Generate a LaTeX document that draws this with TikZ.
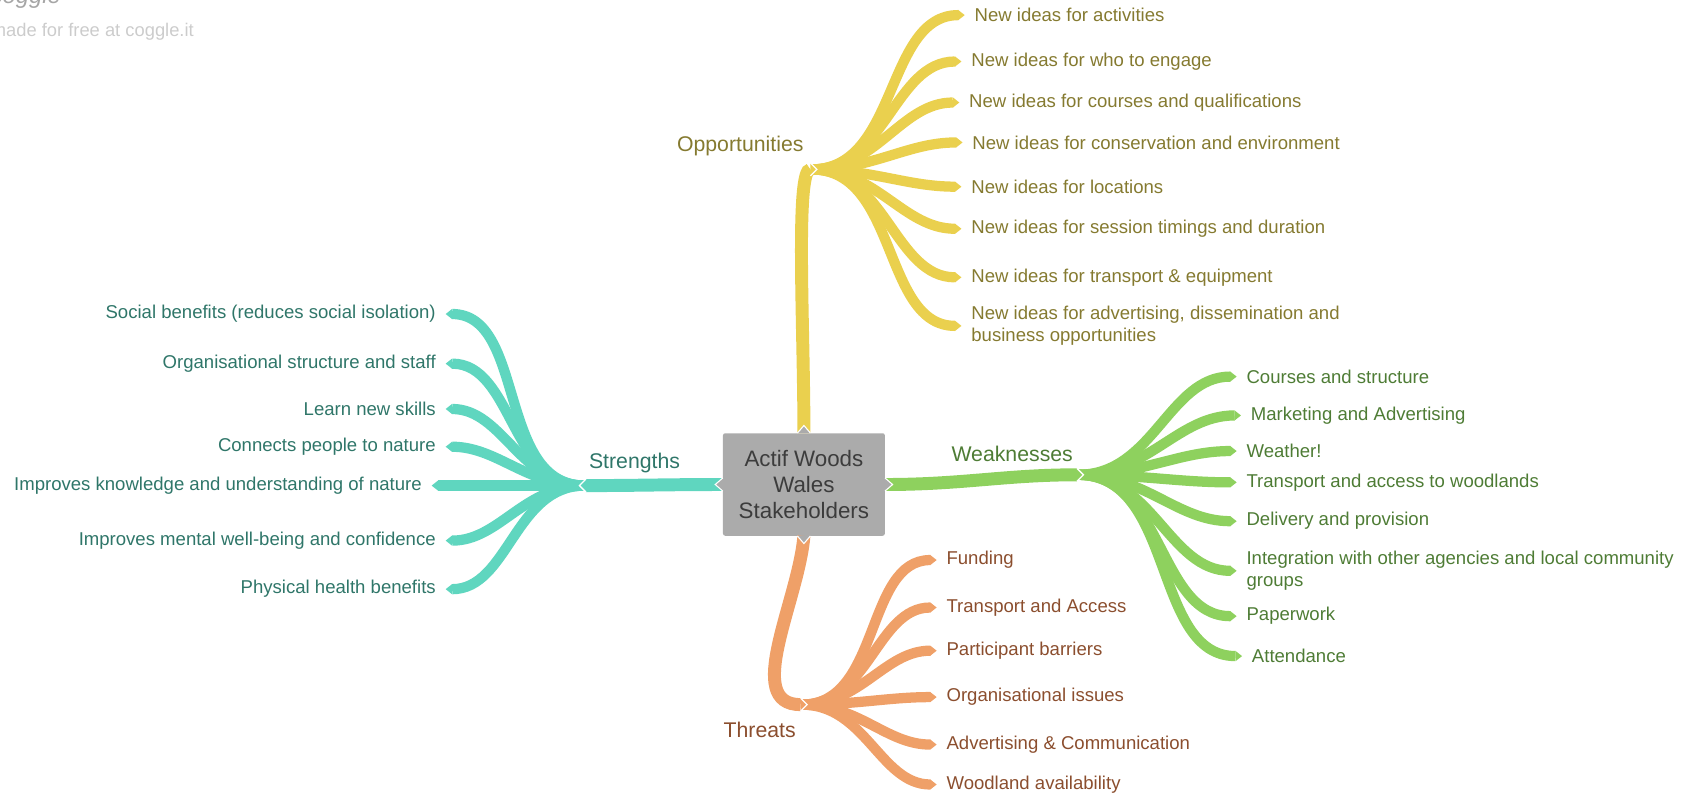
\documentclass[tikz,border=0pt]{standalone}
\usepackage{fontspec}
\setmainfont{Liberation Sans}
\usetikzlibrary{arrows.meta}

\definecolor{boxgray}{HTML}{ABABAB}
\definecolor{boxtext}{HTML}{3C3C3C}
\definecolor{oppfill}{HTML}{EAD04E}
\definecolor{opptext}{HTML}{857A30}
\definecolor{weakfill}{HTML}{8ED15E}
\definecolor{weaktext}{HTML}{4E7C35}
\definecolor{thrfill}{HTML}{EFA068}
\definecolor{thrtext}{HTML}{8B4E2E}
\definecolor{strfill}{HTML}{5FD6BF}
\definecolor{strtext}{HTML}{2F7669}
\definecolor{markgray}{HTML}{CCCCCC}

\tikzstyle{root} = [rectangle, rounded corners=2pt, minimum width=150pt, minimum height=95pt, align=center, fill=boxgray, text=boxtext, font=\fontsize{20.7}{24}\selectfont]
\tikzstyle{topic} = [font=\fontsize{19.7}{23}\selectfont]
\tikzstyle{leaf} = [inner sep=2pt, align=left, font=\fontsize{17.2}{20}\selectfont]
\tikzstyle{trunk} = [line width=12pt, -{Triangle[length=6pt, width=0pt 1, line width=0pt]}]
\tikzstyle{twig} = [line width=9.5pt, shorten >=7pt, -{Triangle[length=6pt, width=0pt 1, line width=0pt]}]
\tikzstyle{hubnotch} = [white, line width=1.2pt]
\tikzstyle{boxnotch} = [white, line width=1pt, fill=boxgray]
\tikzstyle{oppleaf} = [leaf, anchor=west, text=opptext]
\tikzstyle{weakleaf} = [leaf, anchor=west, text=weaktext]
\tikzstyle{thrleaf} = [leaf, anchor=west, text=thrtext]
\tikzstyle{strleaf} = [leaf, anchor=east, text=strtext, align=right]

\begin{document}
\begin{tikzpicture}[x=1pt, y=-1pt]
\useasboundingbox (0,0) rectangle (1568,738);

% credit in the corner
\node (logo) [anchor=west, text=gray!70, font=\fontsize{22}{24}\selectfont\itshape] at (-12,-2) {coggle};
\node (credit) [anchor=west, text=markgray, font=\fontsize{17}{20}\selectfont] at (-12,29) {made for free at coggle.it};

\node (root) [root] at (745,449) {Actif Woods\\Wales\\Stakeholders};

% split points of the four main branches
\coordinate (otip) at (757,157);
\coordinate (ohub) at (752,157);
\coordinate (wtip) at (1004,440);
\coordinate (whub) at (999,440);
\coordinate (ttip) at (748,653);
\coordinate (thub) at (743,653);
\coordinate (stip) at (537,450);
\coordinate (shub) at (542,450);

\node (opp) [topic, text=opptext] at (686,135) {Opportunities};
\node (weak) [topic, text=weaktext] at (938,421) {Weaknesses};
\node (thr) [topic, text=thrtext] at (704,676) {Threats};
\node (str) [topic, text=strtext] at (588,429) {Strengths};

% opportunities
\node (o1) [oppleaf] at (901,14) {New ideas for activities};
\node (o2) [oppleaf] at (898,57) {New ideas for who to engage};
\node (o3) [oppleaf] at (896,95) {New ideas for courses and qualifications};
\node (o4) [oppleaf] at (899,132) {New ideas for conservation and environment};
\node (o5) [oppleaf] at (898,173) {New ideas for locations};
\node (o6) [oppleaf] at (898,212) {New ideas for session timings and duration};
\node (o7) [oppleaf] at (898,257) {New ideas for transport \& equipment};
\node (o8) [oppleaf] at (898,302) {New ideas for advertising, dissemination and\\business opportunities};

% weaknesses
\node (w1) [weakleaf] at (1153,349) {Courses and structure};
\node (w2) [weakleaf] at (1157,385) {Marketing and Advertising};
\node (w3) [weakleaf] at (1153,418) {Weather!};
\node (w4) [weakleaf] at (1153,447) {Transport and access to woodlands};
\node (w5) [weakleaf] at (1153,483) {Delivery and provision};
\node (w6) [weakleaf] at (1153,529) {Integration with other agencies and local community\\groups};
\node (w7) [weakleaf] at (1153,571) {Paperwork};
\node (w8) [weakleaf] at (1158,608) {Attendance};

% threats
\node (t1) [thrleaf] at (875,519) {Funding};
\node (t2) [thrleaf] at (875,563) {Transport and Access};
\node (t3) [thrleaf] at (875,603) {Participant barriers};
\node (t4) [thrleaf] at (875,646) {Organisational issues};
\node (t5) [thrleaf] at (875,690) {Advertising \& Communication};
\node (t6) [thrleaf] at (875,727) {Woodland availability};

% strengths
\node (s1) [strleaf] at (406,291) {Social benefits (reduces social isolation)};
\node (s2) [strleaf] at (406,337) {Organisational structure and staff};
\node (s3) [strleaf] at (406,379) {Learn new skills};
\node (s4) [strleaf] at (406,414) {Connects people to nature};
\node (s5) [strleaf] at (393,450) {Improves knowledge and understanding of nature};
\node (s6) [strleaf] at (406,501) {Improves mental well-being and confidence};
\node (s7) [strleaf] at (406,546) {Physical health benefits};

\draw [twig, draw=oppfill] (ohub) to[out=0,in=180] (o1);
\draw [twig, draw=oppfill] (ohub) to[out=0,in=180] (o2);
\draw [twig, draw=oppfill] (ohub) to[out=0,in=180] (o3);
\draw [twig, draw=oppfill] (ohub) to[out=0,in=180] (o4);
\draw [twig, draw=oppfill] (ohub) to[out=0,in=180] (o5);
\draw [twig, draw=oppfill] (ohub) to[out=0,in=180] (o6);
\draw [twig, draw=oppfill] (ohub) to[out=0,in=180] (o7);
\draw [twig, draw=oppfill] (ohub) to[out=0,in=180] (o8);

\draw [twig, draw=weakfill] (whub) to[out=0,in=180] (w1);
\draw [twig, draw=weakfill] (whub) to[out=0,in=180] (w2);
\draw [twig, draw=weakfill] (whub) to[out=0,in=180] (w3);
\draw [twig, draw=weakfill] (whub) to[out=0,in=180] (w4);
\draw [twig, draw=weakfill] (whub) to[out=0,in=180] (w5);
\draw [twig, draw=weakfill] (whub) to[out=0,in=180] (w6);
\draw [twig, draw=weakfill] (whub) to[out=0,in=180] (w7);
\draw [twig, draw=weakfill] (whub) to[out=0,in=180] (w8);

\draw [twig, draw=thrfill] (thub) to[out=0,in=180] (t1);
\draw [twig, draw=thrfill] (thub) to[out=0,in=180] (t2);
\draw [twig, draw=thrfill] (thub) to[out=0,in=180] (t3);
\draw [twig, draw=thrfill] (thub) to[out=0,in=180] (t4);
\draw [twig, draw=thrfill] (thub) to[out=0,in=180] (t5);
\draw [twig, draw=thrfill] (thub) to[out=0,in=180] (t6);

\draw [twig, draw=strfill] (shub) to[out=180,in=0] (s1);
\draw [twig, draw=strfill] (shub) to[out=180,in=0] (s2);
\draw [twig, draw=strfill] (shub) to[out=180,in=0] (s3);
\draw [twig, draw=strfill] (shub) to[out=180,in=0] (s4);
\draw [twig, draw=strfill] (shub) to[out=180,in=0] (s5);
\draw [twig, draw=strfill] (shub) to[out=180,in=0] (s6);
\draw [twig, draw=strfill] (shub) to[out=180,in=0] (s7);

% main branches out of the centre box
\draw [trunk, draw=oppfill] (root.north) .. controls +(0,-100) and +(-20,0) .. (otip);
\draw [trunk, draw=weakfill] (root.east) to[out=0,in=180] (wtip);
\draw [trunk, draw=thrfill] (root.south) .. controls +(-5,60) and +(-60,0) .. (ttip);
\draw [trunk, draw=strfill] (root.west) to[out=180,in=0] (stip);

\draw [hubnotch] ([shift={(-6pt,6pt)}]otip) -- (otip) -- ([shift={(-6pt,-6pt)}]otip);
\draw [hubnotch] ([shift={(-6pt,6pt)}]wtip) -- (wtip) -- ([shift={(-6pt,-6pt)}]wtip);
\draw [hubnotch] ([shift={(-6pt,6pt)}]ttip) -- (ttip) -- ([shift={(-6pt,-6pt)}]ttip);
\draw [hubnotch] ([shift={(6pt,6pt)}]stip) -- (stip) -- ([shift={(6pt,-6pt)}]stip);

\draw [boxnotch] ([xshift=-6pt]root.north) -- ([yshift=7pt]root.north) -- ([xshift=6pt]root.north);
\draw [boxnotch] ([xshift=-6pt]root.south) -- ([yshift=-7pt]root.south) -- ([xshift=6pt]root.south);
\draw [boxnotch] ([yshift=-6pt]root.east) -- ([xshift=7pt]root.east) -- ([yshift=6pt]root.east);
\draw [boxnotch] ([yshift=-6pt]root.west) -- ([xshift=-7pt]root.west) -- ([yshift=6pt]root.west);
\end{tikzpicture}
\end{document}
